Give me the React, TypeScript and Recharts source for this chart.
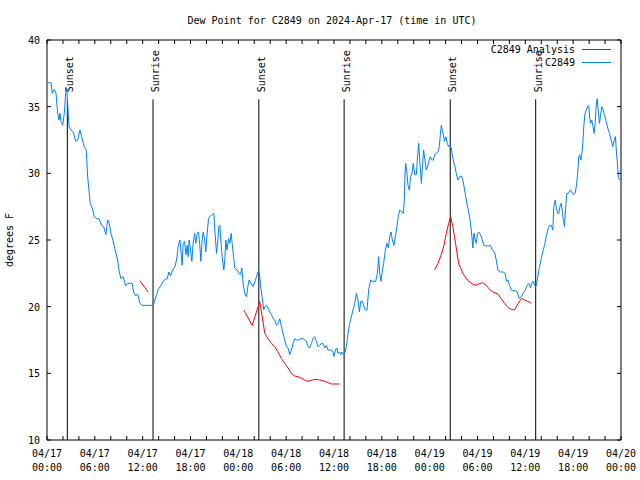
import { LineChart, Line, XAxis, YAxis, ReferenceLine, Legend } from 'recharts';

const FONT = '"DejaVu Sans Mono", "Liberation Mono", monospace';

// hours since 04/17 00:00 UTC
const X_TICKS = [0, 2, 4, 6, 8, 10, 12, 14, 16, 18, 20, 22, 24, 26, 28, 30, 32, 34, 36,
  38, 40, 42, 44, 46, 48, 50, 52, 54, 56, 58, 60, 62, 64, 66, 68, 70, 72];
const LABEL_HOURS = [0, 6, 12, 18, 24, 30, 36, 42, 48, 54, 60, 66, 72];
const LABEL_DATES = ['04/17', '04/17', '04/17', '04/17', '04/18', '04/18', '04/18',
  '04/18', '04/19', '04/19', '04/19', '04/19', '04/20'];
const LABEL_TIMES = ['00:00', '06:00', '12:00', '18:00', '00:00', '06:00', '12:00',
  '18:00', '00:00', '06:00', '12:00', '18:00', '00:00'];
const Y_TICKS = [10, 15, 20, 25, 30, 35, 40];

const SUN_EVENTS = ['Sunset', 'Sunrise', 'Sunset', 'Sunrise', 'Sunset', 'Sunrise'];
const SUN_HOURS = [2.55, 13.3, 26.57, 37.27, 50.58, 61.3];

// observed dew point [hour, degF]
const STATION: [number, number][] = [
  [0.16, 36.8], [0.5, 36.8], [0.66, 36.0], [0.91, 36.3], [1.13, 36.0], [1.34, 34.5],
  [1.5, 34.0], [1.63, 34.5], [1.75, 33.9], [1.97, 33.6], [2.17, 34.5], [2.34, 36.0],
  [2.47, 36.4], [2.59, 35.25], [2.76, 33.5], [3.01, 33.25], [3.3, 33.1], [3.6, 32.4],
  [3.85, 32.5], [4.14, 33.25], [4.35, 32.75], [4.67, 32.0], [4.92, 31.75], [5.1, 29.75],
  [5.26, 28.75], [5.43, 27.75], [5.68, 27.4], [5.93, 26.75], [6.23, 26.6], [6.52, 26.6],
  [6.85, 26.1], [7.11, 26.0], [7.39, 25.4], [7.61, 26.5], [7.81, 26.25], [8.02, 25.5],
  [8.31, 24.9], [8.61, 24.1], [8.86, 23.5], [9.02, 22.75], [9.27, 22.1], [9.56, 22.25],
  [9.86, 21.55], [10.11, 21.75], [10.44, 21.75], [10.69, 21.75], [10.86, 21.1], [11.12, 20.8],
  [11.37, 20.95], [11.65, 20.25], [11.94, 20.1], [12.69, 20.1], [13.32, 20.1],
  [13.53, 20.5], [13.75, 20.9], [13.95, 21.3], [14.25, 21.55], [14.57, 21.9], [14.79, 22.05],
  [15.08, 22.1], [15.29, 22.6], [15.5, 22.3], [15.75, 22.75], [16.04, 23.0], [16.25, 23.5],
  [16.45, 24.5], [16.67, 25.0], [16.79, 24.25], [16.95, 23.1], [17.08, 24.75], [17.26, 24.9],
  [17.42, 23.9], [17.58, 24.6], [17.71, 23.75], [17.83, 25.0], [18.01, 24.25], [18.17, 23.4],
  [18.33, 24.75], [18.51, 25.5], [18.67, 24.75], [18.83, 25.5], [19.01, 25.6], [19.17, 24.6],
  [19.3, 23.4], [19.46, 25.0], [19.59, 25.6], [19.76, 25.1], [19.92, 24.1], [20.09, 25.5],
  [20.26, 26.6], [20.43, 26.75], [20.68, 26.9], [20.93, 27.0], [21.02, 26.0], [21.14, 25.0],
  [21.27, 24.0], [21.43, 25.0], [21.55, 26.0], [21.68, 26.1], [21.8, 25.0], [21.97, 23.75],
  [22.18, 22.75], [22.31, 23.6], [22.43, 25.0], [22.59, 24.25], [22.77, 25.1], [22.93, 24.75],
  [23.1, 25.5], [23.22, 24.75], [23.4, 23.75], [23.56, 22.9], [23.85, 22.75], [24.1, 22.5],
  [24.27, 22.4], [24.44, 22.9], [24.6, 21.75], [24.81, 21.0], [25.03, 20.75], [25.19, 21.5],
  [25.35, 22.0], [25.6, 21.75], [25.85, 21.5], [26.1, 21.9], [26.35, 22.4], [26.53, 22.7],
  [26.65, 22.5], [26.78, 21.6], [26.98, 20.75], [27.19, 19.75], [27.32, 20.0], [27.53, 20.1],
  [27.73, 19.9], [27.94, 19.6], [28.16, 19.4], [28.36, 19.1], [28.57, 19.0], [28.78, 18.6],
  [28.98, 18.75], [29.2, 19.1], [29.41, 18.5], [29.61, 18.0], [29.82, 17.5], [30.04, 17.0],
  [30.24, 16.9], [30.45, 16.4], [30.66, 16.75], [30.86, 17.25], [31.08, 17.6], [31.29, 17.5],
  [31.58, 17.5], [31.83, 17.6], [32.12, 17.6], [32.33, 17.5], [32.54, 17.4], [32.74, 17.0],
  [32.96, 16.9], [33.17, 17.25], [33.37, 17.6], [33.58, 17.75], [33.8, 17.4], [34.0, 17.0],
  [34.21, 17.1], [34.42, 17.25], [34.62, 17.25], [34.84, 16.9], [35.05, 17.1], [35.25, 16.75],
  [35.46, 16.75], [35.68, 16.75], [35.88, 16.6], [36.0, 16.25], [36.18, 16.75], [36.34, 16.9],
  [36.5, 16.5], [36.68, 16.6], [36.84, 16.4], [37.0, 16.6], [37.18, 16.4], [37.34, 16.5],
  [37.56, 17.0], [37.76, 18.0], [37.97, 18.75], [38.18, 19.25], [38.38, 19.75], [38.6, 20.25],
  [38.81, 21.0], [39.01, 20.5], [39.19, 19.6], [39.35, 20.4], [39.56, 20.4], [39.76, 20.0],
  [39.94, 19.75], [40.14, 19.75], [40.35, 21.25], [40.6, 22.0], [40.81, 21.9], [41.02, 21.9],
  [41.23, 21.9], [41.44, 22.5], [41.6, 23.75], [41.73, 22.5], [41.89, 21.9], [42.07, 22.75],
  [42.23, 23.25], [42.44, 24.25], [42.64, 24.75], [42.82, 24.4], [42.98, 25.25], [43.15, 25.6],
  [43.32, 25.0], [43.52, 24.6], [43.7, 25.25], [43.86, 25.9], [44.02, 26.6], [44.24, 27.25],
  [44.52, 27.1], [44.7, 27.0], [44.82, 28.0], [44.9, 29.9], [44.99, 30.75], [45.11, 30.25],
  [45.28, 29.1], [45.45, 28.75], [45.61, 29.75], [45.78, 30.0], [45.95, 30.75], [46.12, 29.9],
  [46.33, 29.9], [46.45, 31.0], [46.62, 32.25], [46.78, 30.75], [46.96, 29.25], [47.12, 30.75],
  [47.24, 31.75], [47.41, 31.0], [47.58, 30.25], [47.74, 30.5], [47.91, 30.9], [48.08, 31.25],
  [48.28, 31.0], [48.46, 31.0], [48.62, 31.4], [48.83, 31.5], [49.04, 31.6], [49.21, 32.0],
  [49.34, 32.9], [49.46, 33.6], [49.59, 33.25], [49.71, 32.9], [49.87, 32.4], [50.04, 32.75],
  [50.21, 32.25], [50.38, 32.0], [50.54, 32.1], [50.71, 31.9], [50.91, 31.1], [51.13, 30.6],
  [51.34, 30.0], [51.54, 29.5], [51.75, 29.75], [51.97, 29.8], [52.17, 29.5], [52.38, 28.75],
  [52.59, 28.0], [52.79, 27.4], [53.01, 26.75], [53.22, 25.75], [53.42, 24.4], [53.55, 25.5],
  [53.72, 25.0], [53.85, 24.75], [54.01, 25.5], [54.17, 25.6], [54.39, 25.4], [54.6, 25.0],
  [54.8, 24.6], [55.1, 24.55], [55.39, 24.55], [55.64, 24.6], [55.85, 24.25], [56.14, 24.1],
  [56.35, 23.5], [56.55, 22.75], [56.89, 22.6], [57.23, 22.6], [57.48, 22.5], [57.64, 21.9],
  [57.81, 22.0], [58.02, 21.6], [58.23, 21.25], [58.43, 21.2], [58.73, 21.2], [58.98, 21.1],
  [59.24, 20.6], [59.49, 20.75], [59.74, 21.0], [59.99, 21.25], [60.24, 21.6], [60.44, 21.75],
  [60.65, 21.4], [60.81, 21.75], [60.99, 21.9], [61.15, 21.6], [61.32, 21.5], [61.49, 22.0],
  [61.78, 23.0], [61.99, 23.6], [62.19, 24.1], [62.41, 24.6], [62.62, 25.25], [62.82, 25.75],
  [63.03, 26.1], [63.25, 26.1], [63.45, 25.75], [63.57, 27.5], [63.75, 28.0], [63.87, 27.5],
  [64.04, 27.0], [64.2, 27.0], [64.37, 27.6], [64.5, 27.75], [64.62, 27.25], [64.79, 26.4],
  [64.91, 26.0], [65.04, 27.25], [65.2, 28.5], [65.41, 28.5], [65.63, 28.75], [65.83, 28.6],
  [66.04, 28.4], [66.25, 28.5], [66.42, 29.1], [66.58, 30.1], [66.7, 31.25], [66.83, 31.4],
  [66.96, 31.0], [67.08, 31.4], [67.21, 32.25], [67.33, 33.5], [67.46, 34.4], [67.63, 34.75],
  [67.83, 35.0], [67.96, 35.1], [68.08, 34.1], [68.21, 33.75], [68.33, 34.0], [68.46, 33.6],
  [68.63, 33.0], [68.76, 33.75], [68.88, 35.0], [69.01, 35.6], [69.14, 34.75], [69.3, 33.75],
  [69.42, 34.25], [69.59, 35.0], [69.76, 34.75], [69.92, 34.4], [70.14, 33.9], [70.34, 33.4],
  [70.55, 33.0], [70.76, 32.5], [70.97, 32.0], [71.14, 32.5], [71.3, 32.75], [71.43, 31.6],
  [71.55, 30.75], [71.68, 29.75], [71.8, 29.5],
];

// analysis dew point, null = gap
const ANALYSIS: [number, number | null][] = [
  [11.65, 21.95], [12.69, 21.1], [13.5, null],
  [24.69, 19.75], [25.73, 18.6], [26.69, 20.4], [27.32, 18.0], [27.73, 17.6], [28.16, 17.25],
  [28.57, 17.0], [28.98, 16.6], [29.41, 16.1], [29.82, 15.75], [30.24, 15.4], [30.66, 15.0],
  [31.08, 14.8], [31.7, 14.7], [32.33, 14.5], [32.74, 14.4], [33.58, 14.55], [34.21, 14.5],
  [34.84, 14.4], [35.68, 14.2], [36.72, 14.2], [40, null],
  [48.62, 22.75], [49.04, 23.25], [49.46, 23.9], [49.79, 24.6], [50.09, 25.5], [50.38, 26.25],
  [50.63, 26.75], [50.91, 26.0], [51.25, 24.75], [51.63, 23.25], [52.17, 22.5], [52.72, 22.0],
  [53.22, 21.75], [53.72, 21.6], [54.14, 21.7], [54.67, 21.8], [55.1, 21.6], [55.51, 21.3],
  [55.93, 21.1], [56.55, 20.95], [56.98, 20.6], [57.39, 20.25], [57.81, 19.95], [58.23, 19.8],
  [58.65, 19.75], [59.06, 20.2], [59.49, 20.6], [59.9, 20.5], [60.31, 20.4], [60.74, 20.25],
];

const SERIES = [
  { name: 'C2849 Analysis', color: '#ff0000' },
  { name: 'C2849', color: '#0080ff' },
];

const stationData = STATION.map(([h, v]) => ({ h, v }));
const analysisData = ANALYSIS.map(([h, v]) => ({ h, v }));

const txt = { fontFamily: FONT, fontSize: 10, fill: '#000' };

function BottomTick(p: any) {
  const i = LABEL_HOURS.indexOf(p.payload.value);
  return (
    <g>
      <line x1={p.x} x2={p.x} y1={p.y} y2={p.y - 4} stroke="#000" />
      {i >= 0 && (
        <text x={p.x} y={p.y + 17} textAnchor="middle" style={txt}>
          <tspan x={p.x}>{LABEL_DATES[i]}</tspan>
          <tspan x={p.x} dy={14}>{LABEL_TIMES[i]}</tspan>
        </text>
      )}
    </g>
  );
}

function TopTick(p: any) {
  return <line x1={p.x} x2={p.x} y1={p.y} y2={p.y + 4} stroke="#000" />;
}

function LeftTick(p: any) {
  return (
    <g>
      <line x1={p.x} x2={p.x + 4} y1={p.y} y2={p.y} stroke="#000" />
      <text x={p.x - 7} y={p.y + 4} textAnchor="end" style={txt}>{p.payload.value}</text>
    </g>
  );
}

function RightTick(p: any) {
  return <line x1={p.x} x2={p.x - 4} y1={p.y} y2={p.y} stroke="#000" />;
}

function LegendBox() {
  return (
    <div style={{ fontFamily: FONT, fontSize: 10, color: '#000' }}>
      {SERIES.map(s => (
        <div key={s.name} style={{ display: 'flex', justifyContent: 'flex-end', alignItems: 'center', height: 13 }}>
          <span style={{ whiteSpace: 'pre' }}>{s.name}</span>
          <span style={{ display: 'inline-block', width: 29, height: 1, background: s.color, marginLeft: 7 }} />
        </div>
      ))}
    </div>
  );
}

export default function App() {
  return (
    <div style={{ position: 'absolute', left: 0, top: 0, background: '#fff' }}>
      <LineChart width={640} height={480} margin={{ top: 39, right: 18, bottom: 0, left: 0 }}>
        <XAxis
          dataKey="h" type="number" domain={[0, 72]} ticks={X_TICKS} interval={0}
          height={40} tickSize={0} tickMargin={0} tickLine={false}
          axisLine={{ stroke: '#000' }} tick={(p: any) => <BottomTick {...p} />}
          allowDataOverflow
        />
        <XAxis
          xAxisId="top" orientation="top" dataKey="h" type="number" domain={[0, 72]}
          ticks={X_TICKS} interval={0} height={1} tickSize={0} tickMargin={0} tickLine={false}
          axisLine={{ stroke: '#000' }} tick={(p: any) => <TopTick {...p} />}
          allowDataOverflow
          label={({ viewBox }: any) => (
            <text x={viewBox.x + viewBox.width / 2 - 2} y={viewBox.y - 15} textAnchor="middle" style={txt}>
              Dew Point for C2849 on 2024-Apr-17 (time in UTC)
            </text>
          )}
        />
        <YAxis
          type="number" domain={[10, 40]} ticks={Y_TICKS} interval={0} width={47}
          tickSize={0} tickMargin={0} tickLine={false} axisLine={{ stroke: '#000' }}
          tick={(p: any) => <LeftTick {...p} />} allowDataOverflow
          label={({ viewBox }: any) => (
            <text
              x={viewBox.x + 13} y={viewBox.y + viewBox.height / 2}
              transform={`rotate(-90 ${viewBox.x + 13} ${viewBox.y + viewBox.height / 2})`}
              textAnchor="middle" style={txt}
            >
              degrees F
            </text>
          )}
        />
        <YAxis
          yAxisId="right" orientation="right" type="number" domain={[10, 40]} ticks={Y_TICKS}
          interval={0} width={1} tickSize={0} tickMargin={0} tickLine={false}
          axisLine={{ stroke: '#000' }} tick={(p: any) => <RightTick {...p} />} allowDataOverflow
        />
        {SUN_HOURS.map((h, i) => (
          <ReferenceLine
            key={i}
            segment={[{ x: h, y: 10 }, { x: h, y: 35.55 }]}
            stroke="#000"
            label={({ viewBox }: any) => (
              <text
                x={viewBox.x + 6} y={viewBox.y - 7}
                transform={`rotate(-90 ${viewBox.x + 6} ${viewBox.y - 7})`}
                textAnchor="start" style={txt}
              >
                {SUN_EVENTS[i]}
              </text>
            )}
          />
        ))}
        <Line
          data={analysisData} dataKey="v" name={SERIES[0].name} type="linear"
          stroke={SERIES[0].color} strokeWidth={1} dot={false} activeDot={false}
          connectNulls={false} isAnimationActive={false}
        />
        <Line
          data={stationData} dataKey="v" name={SERIES[1].name} type="linear"
          stroke={SERIES[1].color} strokeWidth={1} dot={false} activeDot={false}
          isAnimationActive={false}
        />
        <Legend
          layout="horizontal" verticalAlign="middle" align="center"
          wrapperStyle={{ top: 43, left: 420, width: 191, bottom: 'auto' }}
          content={() => <LegendBox />}
        />
      </LineChart>
    </div>
  );
}
